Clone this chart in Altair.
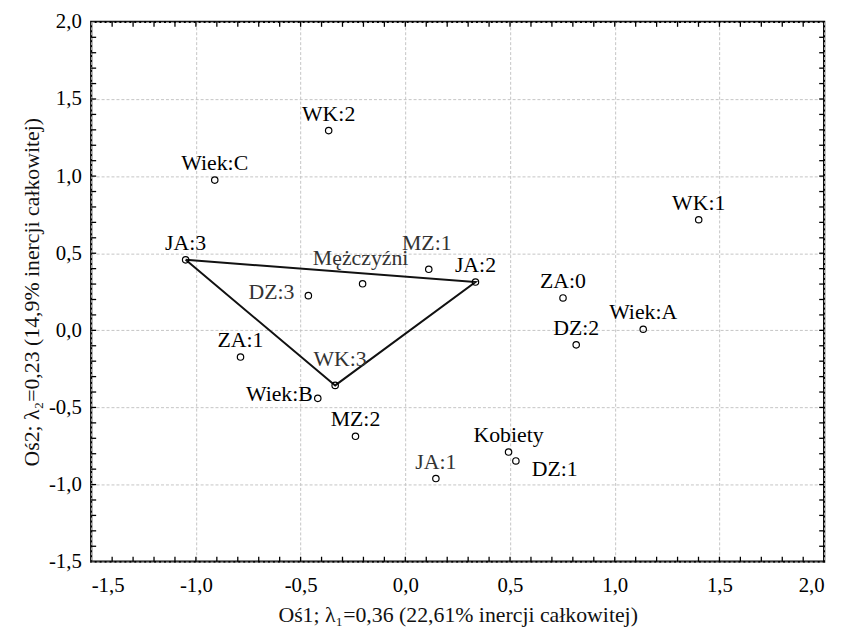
import altair as alt
import pandas as pd

# ---- data ----
labels = ["WK:2", "Wiek:C", "JA:3", "Mężczyźni", "MZ:1", "JA:2", "DZ:3", "ZA:1", "WK:3",
          "Wiek:B", "MZ:2", "Kobiety", "DZ:1", "JA:1", "WK:1", "ZA:0", "Wiek:A", "DZ:2"]
dim1 = [-0.366, -0.910, -1.049, -0.204, 0.112, 0.335, -0.463, -0.787, -0.335,
        -0.418, -0.238, 0.493, 0.528, 0.146, 1.401, 0.753, 1.136, 0.816]
dim2 = [1.295, 0.974, 0.457, 0.302, 0.396, 0.313, 0.225, -0.173, -0.357,
        -0.441, -0.687, -0.789, -0.847, -0.961, 0.717, 0.210, 0.007, -0.094]
placement = ["above", "above", "above", "high", "high", "above", "left", "above", "high_right",
             "left_near", "above", "above", "right_below", "above", "above", "above", "above", "above"]
light_labels = ["Mężczyźni", "MZ:1", "DZ:3", "WK:3", "JA:1"]
triangle = ["JA:3", "JA:2", "WK:3", "JA:3"]

axis_values = [-1.5, -1.0, -0.5, 0.0, 0.5, 1.0, 1.5, 2.0]
minor_ticks = [-1.4, -1.3, -1.2, -1.1, -1.0, -0.9, -0.8, -0.7, -0.6, -0.5, -0.4, -0.3, -0.2, -0.1,
               0.0, 0.1, 0.2, 0.3, 0.4, 0.5, 0.6, 0.7, 0.8, 0.9, 1.0, 1.1, 1.2, 1.3, 1.4, 1.5,
               1.6, 1.7, 1.8, 1.9]

x_title = "Oś1; λ₁=0,36 (22,61% inercji całkowitej)"
y_title = "Oś2; λ₂=0,23 (14,9% inercji całkowitej)"

# ---- tables ----
pts = pd.DataFrame({"label": labels, "dim1": dim1, "dim2": dim2, "place": placement})
pts["tone"] = ["light" if l in light_labels else "dark" for l in labels]
lookup = {l: (a, b) for l, a, b in zip(labels, dim1, dim2)}
tri = pd.DataFrame({
    "order": list(range(len(triangle))),
    "dim1": [lookup[l][0] for l in triangle],
    "dim2": [lookup[l][1] for l in triangle],
})
ticks = pd.DataFrame({"dim1": minor_ticks, "dim2": minor_ticks})

W, H = 740, 545
FONT = "Liberation Serif"
label_expr = "replace(replace(format(datum.value, '.1f'), '.', ','), '\u2212', '-')"

x_enc = alt.X("dim1:Q", scale=alt.Scale(domain=[-1.5, 2.0], nice=False, zero=False),
              axis=alt.Axis(values=axis_values, labelExpr=label_expr, title=x_title,
                            ticks=False, tickSize=0, domain=False, labelPadding=13,
                            titlePadding=9))
y_enc = alt.Y("dim2:Q", scale=alt.Scale(domain=[-1.5, 2.0], nice=False, zero=False),
              axis=alt.Axis(values=axis_values, labelExpr=label_expr, title=y_title,
                            ticks=False, tickSize=0, domain=False, labelPadding=10,
                            titlePadding=5))

base = alt.Chart(pts)

points = base.mark_point(filled=False, size=42, color="black", strokeWidth=1.2, opacity=1).encode(
    x=x_enc, y=y_enc)

tri_line = alt.Chart(tri).mark_line(color="#111111", strokeWidth=2).encode(
    x=x_enc, y=y_enc, order="order:Q")

color_enc = alt.Color("tone:N", scale=alt.Scale(domain=["dark", "light"], range=["#000000", "#333333"]),
                      legend=None)

place_cfg = {
    "above": dict(align="center", dx=0, dy=-10),
    "high": dict(align="center", dx=-2, dy=-19),
    "high_right": dict(align="center", dx=5, dy=-20),
    "left": dict(align="right", dx=-14, dy=3),
    "left_near": dict(align="right", dx=-5, dy=3),
    "right_below": dict(align="left", dx=16, dy=15),
}
text_layers = []
for name, cfg in place_cfg.items():
    text_layers.append(
        base.transform_filter(alt.datum.place == name).mark_text(
            font=FONT, fontSize=22, baseline="alphabetic", **cfg
        ).encode(x=x_enc, y=y_enc, text="label:N", color=color_enc)
    )

tk = alt.Chart(ticks)
tick_style = dict(color="black", strokeWidth=1.3)
bottom_ticks = tk.mark_rule(**tick_style).encode(x=x_enc, y=alt.value(H), y2=alt.value(H - 5))
top_ticks = tk.mark_rule(**tick_style).encode(x=x_enc, y=alt.value(0), y2=alt.value(5))
left_ticks = tk.mark_rule(**tick_style).encode(y=y_enc, x=alt.value(0), x2=alt.value(5))
right_ticks = tk.mark_rule(**tick_style).encode(y=y_enc, x=alt.value(W), x2=alt.value(W - 5))

chart = alt.layer(
    bottom_ticks, top_ticks, left_ticks, right_ticks, tri_line, points, *text_layers
).properties(
    width=W, height=H,
    autosize=alt.AutoSizeParams(type="none"),
    padding={"left": 84, "top": 11, "right": 15, "bottom": 70},
    background="white",
).configure(
    font=FONT
).configure_view(
    stroke="black", strokeWidth=2.2
).configure_axis(
    grid=True, gridColor="#c4c4c4", gridDash=[3, 2], gridWidth=1,
    labelFont=FONT, labelFontSize=21, labelColor="#000000",
    titleFont=FONT, titleFontSize=22, titleFontWeight="normal", titleColor="#111111",
)

chart.save("out.html", embed_options={"renderer": "svg", "actions": False})
